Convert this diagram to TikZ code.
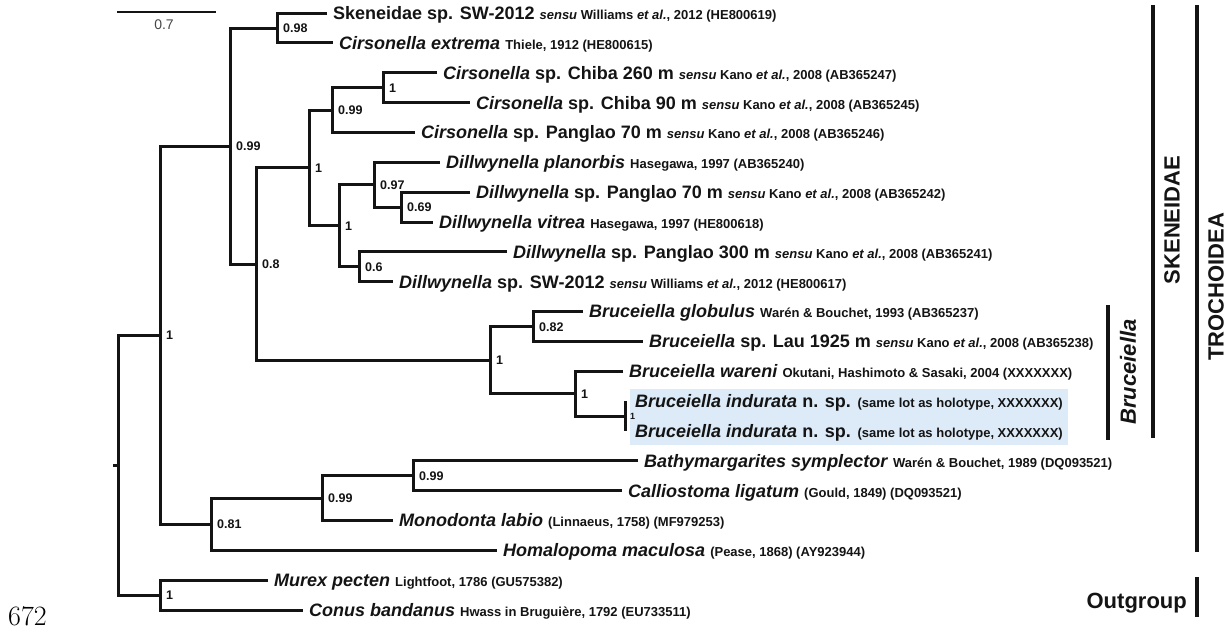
\documentclass[tikz,border=0pt]{standalone}
\usepackage{fontspec}
\newfontfamily\arial{Liberation Sans}
\definecolor{boxblue}{RGB}{221,235,248}
\definecolor{ink}{RGB}{20,20,20}
\definecolor{scalegray}{RGB}{70,70,70}
\newcommand{\sm}[1]{{\fontsize{13}{15}\selectfont #1}}
\begin{document}
\begin{tikzpicture}[x=1pt,y=-1pt,
  branch/.style={draw=ink, line width=3pt, line cap=butt, line join=miter},
  tiplab/.style={anchor=west, inner sep=0pt, xshift=6pt, text height=12.9pt, text depth=0pt,
     font=\arial\bfseries\fontsize{18}{21}\selectfont, text=ink},
  supp/.style={anchor=west, inner sep=0pt, xshift=6pt, text height=9pt, text depth=0pt,
     font=\arial\bfseries\fontsize{12.5}{14}\selectfont, text=ink},
  cladebar/.style={draw=ink, line width=4.5pt},
  cladelab/.style={font=\arial\bfseries\fontsize{22}{24}\selectfont, text=ink, inner sep=0pt}]
\useasboundingbox (0,0) rectangle (1229,629);
\fill[white] (0,0) rectangle (1229,629);

% highlight box
\fill[boxblue] (630,389) rectangle (1068,445);

% tips
\coordinate (t1) at (327,13);
\coordinate (t2) at (333,42.9);
\coordinate (t3) at (437,72.7);
\coordinate (t4) at (470,102.6);
\coordinate (t5) at (415,132.4);
\coordinate (t6) at (440,162.3);
\coordinate (t7) at (470,192.1);
\coordinate (t8) at (433,222);
\coordinate (t9) at (507,251.8);
\coordinate (t10) at (393,281.7);
\coordinate (t11) at (583,311.5);
\coordinate (t12) at (643,341.4);
\coordinate (t13) at (623,371.2);
\coordinate (t14) at (625,401.1);
\coordinate (t15) at (625,430.9);
\coordinate (t16) at (638,460.8);
\coordinate (t17) at (622,490.6);
\coordinate (t18) at (393,520.5);
\coordinate (t19) at (497,550.3);
\coordinate (t20) at (268,580.2);
\coordinate (t21) at (303,610);

% internal nodes
\coordinate (na) at (277,28);
\coordinate (nb) at (383,87.7);
\coordinate (nc) at (332,110);
\coordinate (nd) at (401,207);
\coordinate (ne) at (374,184.7);
\coordinate (nf) at (359,266.7);
\coordinate (ng) at (339,225.7);
\coordinate (nh) at (309,167.9);
\coordinate (ni) at (533,326.5);
\coordinate (nj) at (625,416);
\coordinate (nk) at (575,393.6);
\coordinate (nl) at (490,360);
\coordinate (nm) at (256,264);
\coordinate (nn) at (230,146);
\coordinate (no) at (413,475.7);
\coordinate (np) at (322,498);
\coordinate (nq) at (211,524);
\coordinate (nr) at (160,335);
\coordinate (ns) at (160,595);
\coordinate (root) at (118,465);
\coordinate (rootstub) at (113,465);

% branches
\draw[branch] (t1) -| (na) |- (t2);
\draw[branch] (t3) -| (nb) |- (t4);
\draw[branch] (nb) -| (nc) |- (t5);
\draw[branch] (t7) -| (nd) |- (t8);
\draw[branch] (t6) -| (ne) |- (nd);
\draw[branch] (t9) -| (nf) |- (t10);
\draw[branch] (ne) -| (ng) |- (nf);
\draw[branch] (nc) -| (nh) |- (ng);
\draw[branch] (t11) -| (ni) |- (t12);
\draw[branch] (t14) -| (nj) |- (t15);
\draw[branch] (t13) -| (nk) |- (nj);
\draw[branch] (ni) -| (nl) |- (nk);
\draw[branch] (nh) -| (nm) |- (nl);
\draw[branch] (na) -| (nn) |- (nm);
\draw[branch] (t16) -| (no) |- (t17);
\draw[branch] (no) -| (np) |- (t18);
\draw[branch] (np) -| (nq) |- (t19);
\draw[branch] (nn) -| (nr) |- (nq);
\draw[branch] (t20) -| (ns) |- (t21);
\draw[branch] (nr) -| (root) |- (ns);
\draw[branch] (root) -- (rootstub);

% support values
\node[supp] at (na) {0.98};
\node[supp] at (nb) {1};
\node[supp] at (nc) {0.99};
\node[supp] at (nd) {0.69};
\node[supp] at (ne) {0.97};
\node[supp] at (nf) {0.6};
\node[supp] at (ng) {1};
\node[supp] at (nh) {1};
\node[supp] at (ni) {0.82};
\node[supp, xshift=-1pt, text height=6.5pt, font=\arial\bfseries\fontsize{9}{10}\selectfont] at (nj) {1};
\node[supp] at (nk) {1};
\node[supp] at (nl) {1};
\node[supp] at (nm) {0.8};
\node[supp] at (nn) {0.99};
\node[supp] at (no) {0.99};
\node[supp] at (np) {0.99};
\node[supp] at (nq) {0.81};
\node[supp] at (nr) {1};
\node[supp] at (ns) {1};

% tip labels
\node[tiplab] (L1) at (t1) {Skeneidae sp. SW-2012 \sm{\textit{sensu} Williams \textit{et al.}, 2012 (HE800619)}};
\node[tiplab] (L2) at (t2) {\textit{Cirsonella extrema} \sm{Thiele, 1912 (HE800615)}};
\node[tiplab] (L3) at (t3) {\textit{Cirsonella} sp. Chiba 260 m \sm{\textit{sensu} Kano \textit{et al.}, 2008 (AB365247)}};
\node[tiplab] (L4) at (t4) {\textit{Cirsonella} sp. Chiba 90 m \sm{\textit{sensu} Kano \textit{et al.}, 2008 (AB365245)}};
\node[tiplab] (L5) at (t5) {\textit{Cirsonella} sp. Panglao 70 m \sm{\textit{sensu} Kano \textit{et al.}, 2008 (AB365246)}};
\node[tiplab] (L6) at (t6) {\textit{Dillwynella planorbis} \sm{Hasegawa, 1997 (AB365240)}};
\node[tiplab] (L7) at (t7) {\textit{Dillwynella} sp. Panglao 70 m \sm{\textit{sensu} Kano \textit{et al.}, 2008 (AB365242)}};
\node[tiplab] (L8) at (t8) {\textit{Dillwynella vitrea} \sm{Hasegawa, 1997 (HE800618)}};
\node[tiplab] (L9) at (t9) {\textit{Dillwynella} sp. Panglao 300 m \sm{\textit{sensu} Kano \textit{et al.}, 2008 (AB365241)}};
\node[tiplab] (L10) at (t10) {\textit{Dillwynella} sp. SW-2012 \sm{\textit{sensu} Williams \textit{et al.}, 2012 (HE800617)}};
\node[tiplab] (L11) at (t11) {\textit{Bruceiella globulus} \sm{Warén \& Bouchet, 1993 (AB365237)}};
\node[tiplab] (L12) at (t12) {\textit{Bruceiella} sp. Lau 1925 m \sm{\textit{sensu} Kano \textit{et al.}, 2008 (AB365238)}};
\node[tiplab] (L13) at (t13) {\textit{Bruceiella wareni} \sm{Okutani, Hashimoto \& Sasaki, 2004 (XXXXXXX)}};
\node[tiplab, xshift=4pt] (L14) at (t14) {\textit{Bruceiella indurata} n. sp. \sm{(same lot as holotype, XXXXXXX)}};
\node[tiplab, xshift=4pt] (L15) at (t15) {\textit{Bruceiella indurata} n. sp. \sm{(same lot as holotype, XXXXXXX)}};
\node[tiplab] (L16) at (t16) {\textit{Bathymargarites symplector} \sm{Warén \& Bouchet, 1989 (DQ093521)}};
\node[tiplab] (L17) at (t17) {\textit{Calliostoma ligatum} \sm{(Gould, 1849) (DQ093521)}};
\node[tiplab] (L18) at (t18) {\textit{Monodonta labio} \sm{(Linnaeus, 1758) (MF979253)}};
\node[tiplab] (L19) at (t19) {\textit{Homalopoma maculosa} \sm{(Pease, 1868) (AY923944)}};
\node[tiplab] (L20) at (t20) {\textit{Murex pecten} \sm{Lightfoot, 1786 (GU575382)}};
\node[tiplab] (L21) at (t21) {\textit{Conus bandanus} \sm{Hwass in Bruguière, 1792 (EU733511)}};

% clade bars
\coordinate (bruA) at (1108,305);
\coordinate (bruB) at (1108,440);
\coordinate (skeA) at (1153,5);
\coordinate (skeB) at (1153,438);
\coordinate (troA) at (1197,5);
\coordinate (troB) at (1197,552);
\coordinate (outA) at (1197,577);
\coordinate (outB) at (1197,617);
\draw[cladebar] (bruA) -- (bruB);
\draw[cladebar] (skeA) -- (skeB);
\draw[cladebar] (troA) -- (troB);
\draw[cladebar] (outA) -- (outB);
\node[cladelab, rotate=90] (bruL) at (1128,372) {\textit{Bruceiella}};
\node[cladelab, rotate=90] (skeL) at (1172,220) {SKENEIDAE};
\node[cladelab, rotate=90] (troL) at (1216,287) {TROCHOIDEA};
\node[cladelab, anchor=east, text height=16pt, text depth=0pt] (outL) at (1187,600) {Outgroup};

% scale bar
\coordinate (sbA) at (117,12);
\coordinate (sbB) at (216,12);
\draw[draw=ink, line width=2.5pt] (sbA) -- (sbB);
\node[font=\arial\fontsize{14}{16}\selectfont, text=scalegray, inner sep=0pt] (sbL) at (164,25) {0.7};

% line number
\node[anchor=base west, inner sep=0pt, font=\fontsize{28}{30}\selectfont] (ln) at (8,625) {672};
\end{tikzpicture}
\end{document}
